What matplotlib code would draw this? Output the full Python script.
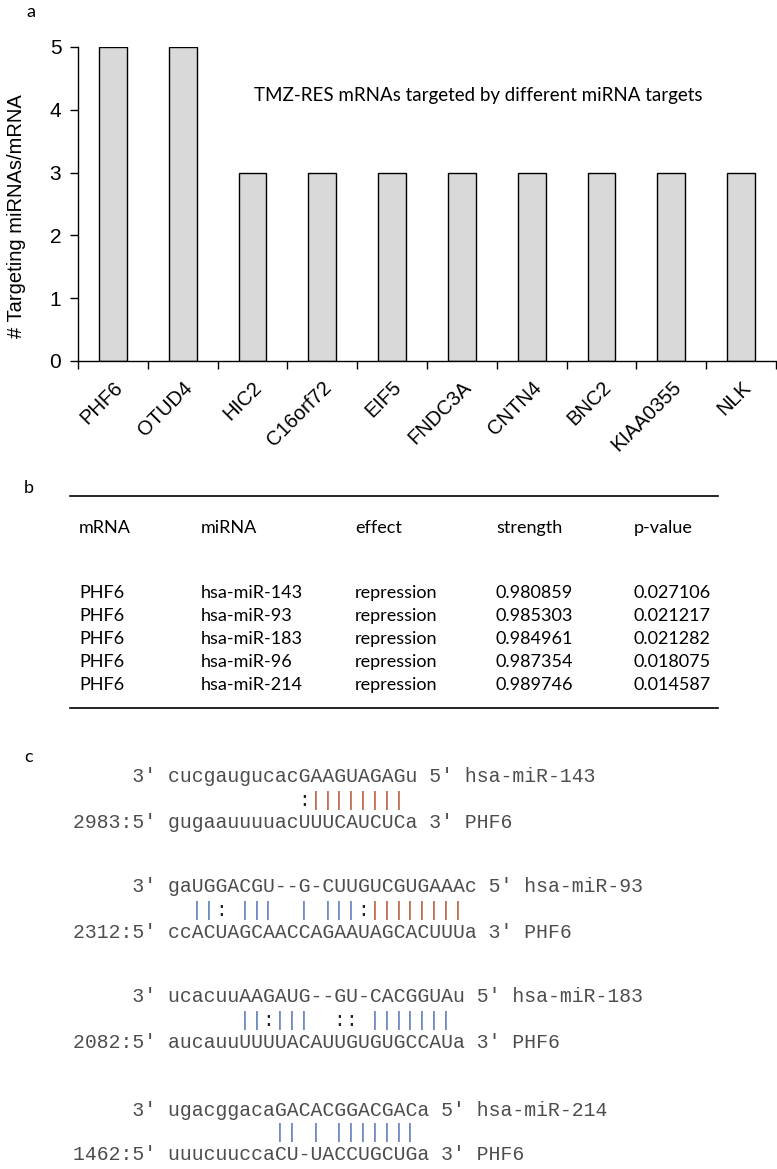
import matplotlib
matplotlib.use("Agg")
import matplotlib.pyplot as plt
from matplotlib.transforms import ScaledTranslation
from matplotlib import font_manager as fm

# ---------------- data ----------------
genes = ["PHF6", "OTUD4", "HIC2", "C16orf72", "EIF5", "FNDC3A", "CNTN4", "BNC2", "KIAA0355", "NLK"]
n_mirnas = [5, 5, 3, 3, 3, 3, 3, 3, 3, 3]
yticks = [0, 1, 2, 3, 4, 5]
chart_title = "TMZ-RES mRNAs targeted by different miRNA targets"
ylabel = "# Targeting miRNAs/mRNA"

table_header = ["mRNA", "miRNA", "effect", "strength", "p-value"]
tbl_mrna = ["PHF6", "PHF6", "PHF6", "PHF6", "PHF6"]
tbl_mirna = ["hsa-miR-143", "hsa-miR-93", "hsa-miR-183", "hsa-miR-96", "hsa-miR-214"]
tbl_effect = ["repression"] * 5
tbl_strength = ["0.980859", "0.985303", "0.984961", "0.987354", "0.989746"]
tbl_pvalue = ["0.027106", "0.021217", "0.021282", "0.018075", "0.014587"]

aln_mirna_names = ["hsa-miR-143", "hsa-miR-93", "hsa-miR-183", "hsa-miR-214"]
aln_mirna_seq = ["cucgaugucacGAAGUAGAGu", "gaUGGACGU--G-CUUGUCGUGAAAc",
                 "ucacuuAAGAUG--GU-CACGGUAu", "ugacggacaGACACGGACGACa"]
aln_pairs = ["           :||||||||", "  ||: |||  | |||:||||||||",
             "      ||:|||  :: |||||||", "         || | |||||||"]
aln_mrna_seq = ["gugaauuuuacUUUCAUCUCa", "ccACUAGCAACCAGAAUAGCACUUUa",
                "aucauuUUUUACAUUGUGUGCCAUa", "uuucuuccaCU-UACCUGCUGa"]
aln_pos = ["2983", "2312", "2082", "1462"]
aln_target = ["PHF6", "PHF6", "PHF6", "PHF6"]

# ---------------- figure ----------------
W, H = 777, 1169
fig = plt.figure(figsize=(W / 100, H / 100), dpi=100)

def fx(px):
    return px / W

def fy(py):
    return 1 - py / H

installed = {f.name for f in fm.fontManager.ttflist}
label_font = ["Lato", "DejaVu Sans"]
narrow = "Liberation Sans Narrow" if "Liberation Sans Narrow" in installed else "Liberation Sans"
sans = [narrow, "DejaVu Sans"]
sans_reg = ["Liberation Sans", "DejaVu Sans"]
mono = ["Liberation Mono", "DejaVu Sans Mono"]

# panel labels
for lab, px, py in [("a", 31, 12), ("b", 29, 488), ("c", 29, 757)]:
    fig.text(fx(px), fy(py), lab, fontsize=13, family=label_font, ha="center", va="center")

# ---------------- panel a ----------------
ax_left, ax_right, ax_top, ax_bot = 78, 776, 47, 361
ax = fig.add_axes([fx(ax_left), fy(ax_bot), fx(ax_right - ax_left), (ax_bot - ax_top) / H])
x = list(range(len(genes)))
ax.bar(x, n_mirnas, width=0.4, color="#d9d9d9", edgecolor="black", linewidth=1.0, zorder=2)
ax.set_xlim(-0.5, len(genes) - 0.5)
ax.set_ylim(0, 5)
ax.set_yticks(yticks)
ax.set_yticklabels([str(v) for v in yticks], fontsize=15, family=sans)
ax.set_xticks([i - 0.5 for i in range(len(genes) + 1)])
ax.set_xticklabels([])
ax.set_xticks(x, minor=True)
ax.set_xticklabels(genes, minor=True, rotation=45, ha="right", va="top",
                   fontsize=14.5, family=sans, rotation_mode="anchor")
offset = ScaledTranslation(7 / 100, 0, fig.dpi_scale_trans)
for lbl in ax.get_xticklabels(minor=True):
    lbl.set_transform(lbl.get_transform() + offset)
ax.tick_params(axis="x", which="minor", length=0, pad=12)
ax.tick_params(axis="x", which="major", direction="out", length=6, width=1)
ax.tick_params(axis="y", direction="out", length=6, width=1, pad=6)
for s in ["top", "right"]:
    ax.spines[s].set_visible(False)
for s in ["left", "bottom"]:
    ax.spines[s].set_linewidth(1.0)
ax.set_ylabel(ylabel, fontsize=14.5, family=sans_reg)
ax.yaxis.set_label_coords(-(78 - 26) / (ax_right - ax_left), (ax_bot - 216) / (ax_bot - ax_top))
fig.text(fx(478), fy(95), chart_title, fontsize=13.5, family=label_font, ha="center", va="center")

# ---------------- panel b ----------------
fig.add_artist(plt.Line2D([fx(70), fx(718)], [fy(496), fy(496)], color="black", lw=1.2))
fig.add_artist(plt.Line2D([fx(70), fx(718)], [fy(708), fy(708)], color="black", lw=1.2))
col_x = [79, 201, 355, 496, 634]
for cx, h in zip(col_x, table_header):
    fig.text(fx(cx), fy(528), h, fontsize=13, family=label_font, ha="left", va="center")
row_y = [593, 616, 639, 662, 685]
cols = [tbl_mrna, tbl_mirna, tbl_effect, tbl_strength, tbl_pvalue]
for r, ry in enumerate(row_y):
    for cx, col in zip(col_x, cols):
        fig.text(fx(cx), fy(ry), col[r], fontsize=13, family=label_font, ha="left", va="center")

# ---------------- panel c ----------------
fs_mono = 14.2
cw = 0.6 * fs_mono * 100 / 72  # char width in px
x0 = 73
txt_col = "#4d4d4d"
red = "#b85f3c"
blue = "#5f7bb8"
block_y = [777, 887, 997, 1110]
bar_colors = [
    lambda i: red,
    lambda i: red if i >= 16 else blue,
    lambda i: blue,
    lambda i: blue,
]
for b in range(4):
    y1 = block_y[b]
    top = "     3' " + aln_mirna_seq[b] + " 5' " + aln_mirna_names[b]
    bot = aln_pos[b] + ":5' " + aln_mrna_seq[b] + " 3' " + aln_target[b]
    fig.text(fx(x0), fy(y1), top, fontsize=fs_mono, family=mono, color=txt_col,
             ha="left", va="center")
    fig.text(fx(x0), fy(y1 + 45), bot, fontsize=fs_mono, family=mono, color=txt_col,
             ha="left", va="center")
    seq_start = x0 + 8 * cw
    for i, ch in enumerate(aln_pairs[b]):
        if ch == " ":
            continue
        col = bar_colors[b](i) if ch == "|" else "#222222"
        fig.text(fx(seq_start + (i + 0.5) * cw), fy(y1 + 23), ch, fontsize=fs_mono,
                 family=mono, color=col, ha="center", va="center")

fig.savefig("out.png", dpi=100)
